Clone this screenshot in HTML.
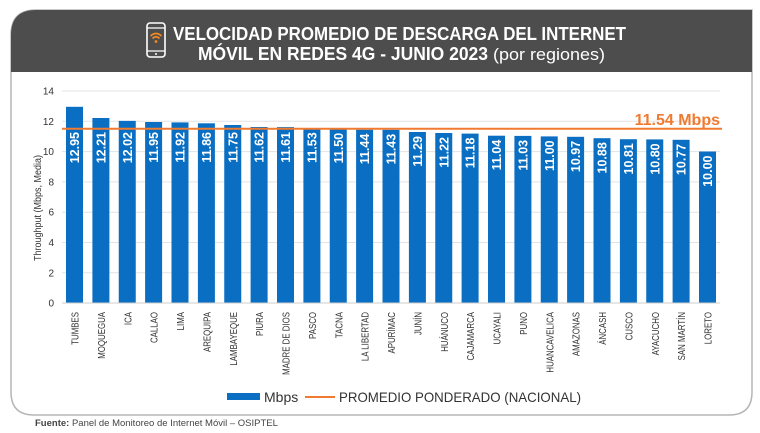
<!DOCTYPE html>
<html><head><meta charset="utf-8"><style>
html,body{margin:0;padding:0;background:#fff;}
svg{display:block;font-family:"Liberation Sans",sans-serif;}
.b{fill:#0a6fc2}
.v{font-size:12.5px;font-weight:bold;fill:#fff;text-anchor:end}
.c{font-size:10.5px;fill:#333;text-anchor:end}
</style></head><body>
<svg width="760" height="433" viewBox="0 0 760 433" xmlns="http://www.w3.org/2000/svg">
<defs>
<clipPath id="card"><path d="M36,10 H752 V392 Q752,415 729,415 H34 Q11,415 11,392 V35 Q11,10 36,10 Z"/></clipPath>
</defs>
<path d="M36,10 H752 V392 Q752,415 729,415 H34 Q11,415 11,392 V35 Q11,10 36,10 Z" fill="#fff" stroke="#b5b5b5" stroke-width="1.5"/>
<rect x="0" y="0" width="760" height="72" fill="#4d4d4d" clip-path="url(#card)"/>
<rect x="147" y="23" width="18" height="34" rx="3" fill="none" stroke="#fff" stroke-width="1.6"/>
<line x1="147" y1="28" x2="165" y2="28" stroke="#fff" stroke-width="1.2"/>
<line x1="147" y1="51" x2="165" y2="51" stroke="#fff" stroke-width="1.2"/>
<circle cx="156" cy="54" r="1" fill="#fff"/>
<path d="M150.5,36 Q156,31 161.5,36" fill="none" stroke="#f08a24" stroke-width="1.6"/>
<path d="M152.5,38.5 Q156,35 159.5,38.5" fill="none" stroke="#f08a24" stroke-width="1.6"/>
<circle cx="156" cy="41.5" r="1.4" fill="#f08a24"/>
<text x="173" y="40" font-size="18" font-weight="bold" fill="#fff" textLength="453" lengthAdjust="spacingAndGlyphs">VELOCIDAD PROMEDIO DE DESCARGA DEL INTERNET</text>
<text x="198" y="60" font-size="18" font-weight="bold" fill="#fff" textLength="290" lengthAdjust="spacingAndGlyphs">MÓVIL EN REDES 4G - JUNIO 2023</text>
<text x="493" y="60" font-size="17" fill="#fff" textLength="112" lengthAdjust="spacingAndGlyphs">(por regiones)</text>
<g stroke="#e3e3e3" stroke-width="1">
<line x1="62" y1="91" x2="720" y2="91"/><line x1="62" y1="121.3" x2="720" y2="121.3"/>
<line x1="62" y1="151.6" x2="720" y2="151.6"/><line x1="62" y1="181.9" x2="720" y2="181.9"/>
<line x1="62" y1="212.2" x2="720" y2="212.2"/><line x1="62" y1="242.5" x2="720" y2="242.5"/>
<line x1="62" y1="272.8" x2="720" y2="272.8"/>
</g>
<g font-size="10" fill="#333" text-anchor="end">
<text x="54" y="94.5">14</text><text x="54" y="124.8">12</text><text x="54" y="155.1">10</text>
<text x="54" y="185.4">8</text><text x="54" y="215.7">6</text><text x="54" y="246">4</text>
<text x="54" y="276.3">2</text><text x="54" y="306.6">0</text>
</g>
<text transform="translate(41,208) rotate(-90) scale(0.9,1)" font-size="10" fill="#333" text-anchor="middle">Throughput (Mbps, Media)</text>

<rect class="b" x="66" y="106.8" width="17" height="196.2"/>
<rect class="b" x="92.4" y="118" width="17" height="185"/>
<rect class="b" x="118.75" y="120.9" width="17" height="182.1"/>
<rect class="b" x="145.1" y="122" width="17" height="181"/>
<rect class="b" x="171.5" y="122.4" width="17" height="180.6"/>
<rect class="b" x="197.9" y="123.3" width="17" height="179.7"/>
<rect class="b" x="224.25" y="125" width="17" height="178"/>
<rect class="b" x="250.6" y="127" width="17" height="176"/>
<rect class="b" x="277" y="127.1" width="17" height="175.9"/>
<rect class="b" x="303.4" y="128.3" width="17" height="174.7"/>
<rect class="b" x="329.75" y="128.8" width="17" height="174.2"/>
<rect class="b" x="356.1" y="129.7" width="17" height="173.3"/>
<rect class="b" x="382.5" y="129.8" width="17" height="173.2"/>
<rect class="b" x="408.9" y="132" width="17" height="171"/>
<rect class="b" x="435.25" y="133" width="17" height="170"/>
<rect class="b" x="461.6" y="133.6" width="17" height="169.4"/>
<rect class="b" x="488" y="135.7" width="17" height="167.3"/>
<rect class="b" x="514.4" y="135.9" width="17" height="167.1"/>
<rect class="b" x="540.75" y="136.4" width="17" height="166.6"/>
<rect class="b" x="567.1" y="136.8" width="17" height="166.2"/>
<rect class="b" x="593.5" y="138.2" width="17" height="164.8"/>
<rect class="b" x="619.9" y="139.2" width="17" height="163.8"/>
<rect class="b" x="646.25" y="139.4" width="17" height="163.6"/>
<rect class="b" x="672.6" y="139.8" width="17" height="163.2"/>
<rect class="b" x="699" y="151.5" width="17" height="151.5"/>

<text class="v" transform="translate(79,132) rotate(-90)">12.95</text>
<text class="v" transform="translate(105.4,132) rotate(-90)">12.21</text>
<text class="v" transform="translate(131.75,132) rotate(-90)">12.02</text>
<text class="v" transform="translate(158.1,132) rotate(-90)">11.95</text>
<text class="v" transform="translate(184.5,132) rotate(-90)">11.92</text>
<text class="v" transform="translate(210.9,132) rotate(-90)">11.86</text>
<text class="v" transform="translate(237.25,132) rotate(-90)">11.75</text>
<text class="v" transform="translate(263.6,132) rotate(-90)">11.62</text>
<text class="v" transform="translate(290,132) rotate(-90)">11.61</text>
<text class="v" transform="translate(316.4,132.3) rotate(-90)">11.53</text>
<text class="v" transform="translate(342.75,132.8) rotate(-90)">11.50</text>
<text class="v" transform="translate(369.1,133.7) rotate(-90)">11.44</text>
<text class="v" transform="translate(395.5,133.8) rotate(-90)">11.43</text>
<text class="v" transform="translate(421.9,136) rotate(-90)">11.29</text>
<text class="v" transform="translate(448.25,137) rotate(-90)">11.22</text>
<text class="v" transform="translate(474.6,137.6) rotate(-90)">11.18</text>
<text class="v" transform="translate(501,139.7) rotate(-90)">11.04</text>
<text class="v" transform="translate(527.4,139.9) rotate(-90)">11.03</text>
<text class="v" transform="translate(553.75,140.4) rotate(-90)">11.00</text>
<text class="v" transform="translate(580.1,140.8) rotate(-90)">10.97</text>
<text class="v" transform="translate(606.5,142.2) rotate(-90)">10.88</text>
<text class="v" transform="translate(632.9,143.2) rotate(-90)">10.81</text>
<text class="v" transform="translate(659.25,143.4) rotate(-90)">10.80</text>
<text class="v" transform="translate(685.6,143.8) rotate(-90)">10.77</text>
<text class="v" transform="translate(712,155.5) rotate(-90)">10.00</text>

<text class="c" transform="translate(78.5,312) rotate(-90) scale(0.75,1)">TUMBES</text>
<text class="c" transform="translate(104.9,312) rotate(-90) scale(0.75,1)">MOQUEGUA</text>
<text class="c" transform="translate(131.25,312) rotate(-90) scale(0.75,1)">ICA</text>
<text class="c" transform="translate(157.6,312) rotate(-90) scale(0.75,1)">CALLAO</text>
<text class="c" transform="translate(184,312) rotate(-90) scale(0.75,1)">LIMA</text>
<text class="c" transform="translate(210.4,312) rotate(-90) scale(0.75,1)">AREQUIPA</text>
<text class="c" transform="translate(236.75,312) rotate(-90) scale(0.75,1)">LAMBAYEQUE</text>
<text class="c" transform="translate(263.1,312) rotate(-90) scale(0.75,1)">PIURA</text>
<text class="c" transform="translate(289.5,312) rotate(-90) scale(0.75,1)">MADRE DE DIOS</text>
<text class="c" transform="translate(315.9,312) rotate(-90) scale(0.75,1)">PASCO</text>
<text class="c" transform="translate(342.25,312) rotate(-90) scale(0.75,1)">TACNA</text>
<text class="c" transform="translate(368.6,312) rotate(-90) scale(0.75,1)">LA LIBERTAD</text>
<text class="c" transform="translate(395,312) rotate(-90) scale(0.75,1)">APURÍMAC</text>
<text class="c" transform="translate(421.4,312) rotate(-90) scale(0.75,1)">JUNÍN</text>
<text class="c" transform="translate(447.75,312) rotate(-90) scale(0.75,1)">HUÁNUCO</text>
<text class="c" transform="translate(474.1,312) rotate(-90) scale(0.75,1)">CAJAMARCA</text>
<text class="c" transform="translate(500.5,312) rotate(-90) scale(0.75,1)">UCAYALI</text>
<text class="c" transform="translate(526.9,312) rotate(-90) scale(0.75,1)">PUNO</text>
<text class="c" transform="translate(553.25,312) rotate(-90) scale(0.75,1)">HUANCAVELICA</text>
<text class="c" transform="translate(579.6,312) rotate(-90) scale(0.75,1)">AMAZONAS</text>
<text class="c" transform="translate(606,312) rotate(-90) scale(0.75,1)">ÁNCASH</text>
<text class="c" transform="translate(632.4,312) rotate(-90) scale(0.75,1)">CUSCO</text>
<text class="c" transform="translate(658.75,312) rotate(-90) scale(0.75,1)">AYACUCHO</text>
<text class="c" transform="translate(685.1,312) rotate(-90) scale(0.75,1)">SAN MARTÍN</text>
<text class="c" transform="translate(711.5,312) rotate(-90) scale(0.75,1)">LORETO</text>

<line x1="62" y1="303" x2="720" y2="303" stroke="#ccc" stroke-width="1"/>
<line x1="62" y1="128.8" x2="722" y2="128.8" stroke="#f07a30" stroke-width="2"/>
<text x="720" y="125" font-size="16" font-weight="bold" fill="#f07a30" text-anchor="end">11.54 Mbps</text>
<rect x="227" y="393" width="33" height="7" fill="#0a6fc2"/>
<text x="264" y="402" font-size="14" fill="#333">Mbps</text>
<line x1="305" y1="397" x2="335" y2="397" stroke="#f07a30" stroke-width="2"/>
<text x="339" y="402" font-size="14" fill="#333" textLength="242" lengthAdjust="spacingAndGlyphs">PROMEDIO PONDERADO (NACIONAL)</text>
<text x="35" y="426" font-size="9.5" fill="#444"><tspan font-weight="bold">Fuente:</tspan> Panel de Monitoreo de Internet Móvil – OSIPTEL</text>
</svg>
</body></html>
